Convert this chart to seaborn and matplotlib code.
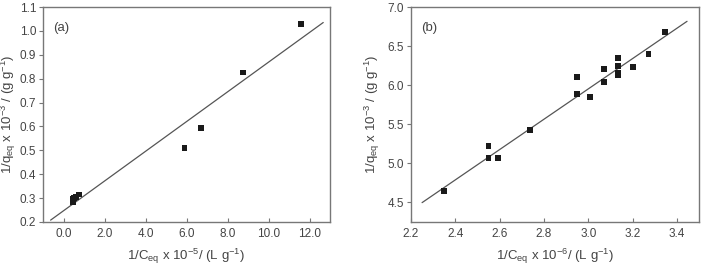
import matplotlib
matplotlib.use("Agg")
import matplotlib.pyplot as plt
import seaborn as sns
import numpy as np
import pandas as pd

# Panel (a) data
a_x = [0.45, 0.45, 0.5, 0.6, 0.75, 5.9, 6.7, 8.75, 11.6]
a_y = [0.285, 0.295, 0.300, 0.305, 0.315, 0.511, 0.593, 0.826, 1.030]
a_fit_x = [-0.63, 12.67]
a_slope, a_intercept = 0.0622, 0.247

# Panel (b) data
b_x = [2.349, 2.550, 2.550, 2.593, 2.736, 2.951, 2.951, 3.010, 3.071, 3.071,
       3.135, 3.135, 3.135, 3.135, 3.202, 3.272, 3.345]
b_y = [4.643, 5.065, 5.227, 5.073, 5.431, 5.888, 6.105, 5.845, 6.045, 6.203,
       6.352, 6.241, 6.160, 6.130, 6.237, 6.399, 6.685]
b_fit_x = [2.25, 3.446]
b_slope, b_intercept = 1.939, 0.135

a_xticks = [0, 2, 4, 6, 8, 10, 12]
a_yticks = [0.2, 0.3, 0.4, 0.5, 0.6, 0.7, 0.8, 0.9, 1.0, 1.1]
b_xticks = [2.2, 2.4, 2.6, 2.8, 3.0, 3.2, 3.4]
b_yticks = [4.5, 5.0, 5.5, 6.0, 6.5, 7.0]

sns.set_style("white")
plt.rcParams['font.family'] = ['Liberation Sans', 'DejaVu Sans']
plt.rcParams['mathtext.default'] = 'regular'

W, H = 702, 268
fig = plt.figure(figsize=(W / 100, H / 100), dpi=100)
ax_a = fig.add_axes([43 / W, 1 - 222 / H, (330 - 43) / W, (222 - 7) / H])
ax_b = fig.add_axes([411 / W, 1 - 222 / H, (699 - 411) / W, (222 - 7) / H])

txt = '#444444'
frame = '#777777'

def draw(ax, xs, ys, fx, slope, intercept, label):
    df = pd.DataFrame({'x': xs, 'y': ys})
    fit = pd.DataFrame({'x': fx, 'y': [slope * v + intercept for v in fx]})
    sns.lineplot(data=fit, x='x', y='y', ax=ax, color='#555555', linewidth=0.9)
    sns.scatterplot(data=df, x='x', y='y', ax=ax, marker='s', s=18,
                    color='#1a1a1a', edgecolor='none', zorder=3)
    for sp in ax.spines.values():
        sp.set_color(frame)
        sp.set_linewidth(1.0)
    ax.tick_params(axis='y', direction='out', length=3, width=0.8,
                   color=frame, labelsize=8.5, labelcolor=txt, pad=2, left=True)
    ax.tick_params(axis='x', direction='in', length=3, width=0.8,
                   color=frame, labelsize=8.5, labelcolor=txt, pad=4, bottom=True)
    ax.text(0.035, 0.89, label, transform=ax.transAxes, fontsize=9.5, color=txt)

draw(ax_a, a_x, a_y, a_fit_x, a_slope, a_intercept, '(a)')
ax_a.set_xlim(-1, 13)
ax_a.set_ylim(0.2, 1.1)
ax_a.set_xticks(a_xticks)
ax_a.set_xticklabels([f'{v:.1f}' for v in a_xticks])
ax_a.set_yticks(a_yticks)
ax_a.set_yticklabels([f'{v:.1f}' for v in a_yticks])
ax_a.set_xlabel(r'1/C$_{eq}$ x 10$^{-5}$/ (L g$^{-1}$)', fontsize=9.5, color=txt, labelpad=5)
ax_a.set_ylabel(r'1/q$_{eq}$ x 10$^{-3}$ / (g g$^{-1}$)', fontsize=9.5, color=txt, labelpad=1)

draw(ax_b, b_x, b_y, b_fit_x, b_slope, b_intercept, '(b)')
ax_b.set_xlim(2.2, 3.5)
ax_b.set_ylim(4.25, 7.0)
ax_b.set_xticks(b_xticks)
ax_b.set_xticklabels([f'{v:.1f}' for v in b_xticks])
ax_b.set_yticks(b_yticks)
ax_b.set_yticklabels([f'{v:.1f}' for v in b_yticks])
ax_b.set_xlabel(r'1/C$_{eq}$ x 10$^{-6}$/ (L g$^{-1}$)', fontsize=9.5, color=txt, labelpad=5)
ax_b.set_ylabel(r'1/q$_{eq}$ x 10$^{-3}$ / (g g$^{-1}$)', fontsize=9.5, color=txt, labelpad=4)

fig.savefig('out.png', dpi=100, facecolor='white')
